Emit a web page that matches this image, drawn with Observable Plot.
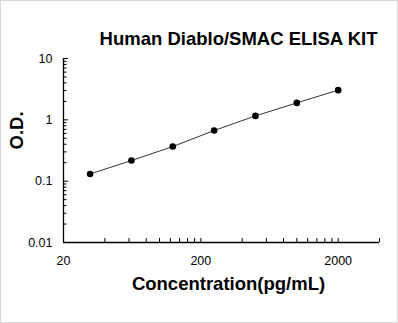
<!DOCTYPE html>
<html>
<head>
<meta charset="utf-8">
<script src="https://cdn.jsdelivr.net/npm/d3@7"></script>
<script src="https://cdn.jsdelivr.net/npm/@observablehq/plot@0.6"></script>
<style>
  html, body { margin: 0; padding: 0; background: #fff; }
  #wrap { position: relative; width: 398px; height: 323px; }
  #wrap svg { display: block; }
  #edge { position: absolute; left: 0; top: 0; width: 398px; height: 323px; box-sizing: border-box; border: 1px solid #d6d6d6; pointer-events: none; }
</style>
</head>
<body>
<div id="wrap"><div id="edge"></div></div>
<script>
// Standard curve: concentration (pg/mL) vs optical density
const concentration = [31.25, 62.5, 125, 250, 500, 1000, 2000];
const od = [0.131, 0.217, 0.367, 0.669, 1.16, 1.89, 3.05];

const title = "Human Diablo/SMAC ELISA KIT";
const xTitle = "Concentration(pg/mL)";
const yTitle = "O.D.";

const xLabelTicks = [20, 200, 2000];
const yLabelTicks = [10, 1, 0.1, 0.01];

// tick marks: every multiple within each decade
const xDecades = [20, 200, 2000];
const yDecades = [0.01, 0.1, 1];
const xTicks = [];
for (const d of xDecades) for (let k = 1; k <= 9; k++) xTicks.push(d * k);
xTicks.push(4000);
const yMinor = [];
for (const d of yDecades) for (let k = 2; k <= 9; k++) yMinor.push(d * k);

const points = concentration.map((c, i) => ({c, v: od[i]}));

const W = 398, H = 323;
const mL = 63, mR = 19, mT = 58, mB = 81;
const frameW = W - mL - mR, frameH = H - mT - mB;
const font = "Arial, 'Liberation Sans', sans-serif";

const chart = Plot.plot({
  width: W,
  height: H,
  marginLeft: mL,
  marginRight: mR,
  marginTop: mT,
  marginBottom: mB,
  style: {fontFamily: font, background: "#fff", color: "#000"},
  x: {type: "log", domain: [20, 4000], axis: null},
  y: {type: "log", domain: [0.01, 10], axis: null},
  marks: [
    // inward tick marks
    Plot.tickX(xTicks, {x: d => d, insetTop: frameH - 4, stroke: "#000", strokeWidth: 1}),
    Plot.tickY(yLabelTicks, {y: d => d, insetRight: frameW - 5, stroke: "#000", strokeWidth: 1}),
    Plot.tickY(yMinor, {y: d => d, insetRight: frameW - 3.5, stroke: "#000", strokeWidth: 1}),
    // axis lines
    Plot.ruleY([0.01], {stroke: "#000", strokeWidth: 1.3}),
    Plot.ruleX([20], {stroke: "#000", strokeWidth: 1.3}),
    // tick labels
    Plot.text(xLabelTicks, {x: d => d, frameAnchor: "bottom", dy: 18.5, lineAnchor: "middle", text: d => String(d), fontSize: 12.5, fill: "#000"}),
    Plot.text(yLabelTicks, {y: d => d, frameAnchor: "left", dx: -11, textAnchor: "end", lineAnchor: "middle", text: d => String(d), fontSize: 12.5, fill: "#000"}),
    // curve and points
    Plot.line(points, {x: "c", y: "v", stroke: "#333", strokeWidth: 1}),
    Plot.dot(points, {x: "c", y: "v", r: 3.3, fill: "#000", stroke: "none"}),
    // titles
    Plot.text([title], {frameAnchor: "top", dx: 17, dy: -19, lineAnchor: "middle", fontSize: 18.5, fontWeight: "bold", fill: "#000"}),
    Plot.text([xTitle], {frameAnchor: "bottom", dx: 7, dy: 42, lineAnchor: "middle", fontSize: 18.5, fontWeight: "bold", fill: "#000"}),
    Plot.text([yTitle], {frameAnchor: "left", dx: -46, dy: -1, rotate: -90, lineAnchor: "middle", fontSize: 18.5, fontWeight: "bold", fill: "#000"})
  ]
});

document.getElementById("wrap").prepend(chart);
</script>
</body>
</html>
